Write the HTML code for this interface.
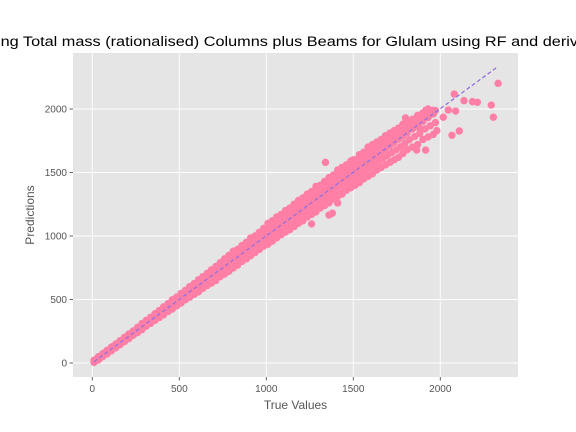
<!DOCTYPE html>
<html><head><meta charset="utf-8"><style>
html,body{margin:0;padding:0;background:#fff;}
svg{display:block;font-family:"Liberation Sans","DejaVu Sans",sans-serif;}
</style></head><body>
<svg id="chart" width="576" height="432" xmlns="http://www.w3.org/2000/svg">
<text x="-3" y="46" font-size="13.5" fill="#000" textLength="581" lengthAdjust="spacingAndGlyphs">ing Total mass (rationalised) Columns plus Beams for Glulam using RF and deriv</text>
<rect x="73" y="53" width="445" height="324" fill="#E5E5E5"/>
<g id="grid"></g>
<g id="ticks"></g>
<g id="points"></g>
<g id="line"></g>
<text x="295.5" y="409" font-size="12" fill="#555" text-anchor="middle">True Values</text>
<text x="0" y="0" font-size="12" fill="#555" text-anchor="middle" transform="translate(34,215) rotate(-90)">Predictions</text>
</svg>
<script>
const xTicks = [0, 500, 1000, 1500, 2000];
const yTicks = [0, 500, 1000, 1500, 2000];
const trueVals = [10,35,60,85,110,135,160,185,210,235,260,285,310,335,360,385,410,435,460,485,510,535,560,585,610,635,660,685,710,735,760,785,810,835,860,885,910,935,960,985,1010,1035,1060,1085,1110,1135,1160,1185,1210,1235,1260,1285,1310,1335,1360,1385,1410,1435,1460,1485,1510,1535,1560,1585,1610,1635,1660,1685,1710,1735,1760,1785,1810,1840,1870,1900,1930,1960];
const predHigh = [22,50,74,100,126,150,176,203,228,252,281,310,336,360,388,414,442,468,498,520,548,572,602,625,655,680,706,734,760,790,820,848,880,895,925,950,985,1000,1030,1060,1100,1120,1150,1170,1200,1220,1250,1280,1300,1330,1350,1390,1400,1430,1460,1480,1520,1540,1560,1590,1600,1640,1660,1700,1720,1740,1760,1790,1810,1830,1850,1880,1900,1920,1950,1970,2000,1990];
const predMid = [12,36,62,86,112,137,160,186,211,236,262,286,312,336,362,386,412,436,462,486,512,536,562,586,612,636,662,686,712,736,762,786,812,836,862,886,912,936,962,986,1012,1036,1062,1086,1112,1136,1162,1186,1212,1236,1262,1286,1312,1336,1362,1386,1412,1436,1462,1486,1512,1536,1562,1586,1612,1636,1662,1686,1712,1736,1762,1786,1812,1842,1872,1902,1932,1962];
const predLow = [5,25,50,72,96,120,144,168,192,218,240,262,290,312,336,358,380,405,425,450,472,498,518,540,560,588,610,630,650,680,700,722,748,770,800,820,845,870,895,920,935,960,985,1010,1030,1050,1075,1100,1120,1150,1170,1190,1220,1240,1260,1290,1310,1330,1360,1380,1400,1420,1450,1470,1490,1520,1540,1560,1580,1600,1620,1650,1680,1700,1720,1760,1780,1800];
const trueVals2 = [22,47,72,97,122,147,172,197,222,247,272,297,322,347,372,397,422,447,472,497,522,547,572,597,622,647,672,697,722,747,772,797,822,847,872,897,922,947,972,997,1022,1047,1072,1097,1122,1147,1172,1197,1222,1247,1272,1297,1322,1347,1372,1397,1422,1447,1472,1497,1522,1547,1572,1597,1622,1647,1672,1697,1722,1747,1772,1797,1822,1852,1882,1912,1942,1972];
const predUpper2 = [29,55,80,105,131,155,180,206,232,256,283,310,336,360,387,412,439,464,492,515,542,566,594,617,645,670,696,722,748,775,803,829,858,877,905,930,960,980,1008,1035,1068,1090,1118,1140,1168,1190,1218,1245,1268,1295,1318,1350,1368,1395,1423,1445,1478,1500,1523,1550,1568,1600,1623,1655,1678,1700,1723,1750,1773,1795,1818,1845,1868,1893,1923,1948,1978,1988];
const predLower2 = [20,42,68,91,116,140,164,189,214,239,263,286,313,336,361,384,408,432,456,480,504,529,552,575,598,624,648,670,693,720,743,766,792,815,843,865,890,915,940,965,986,1010,1036,1060,1083,1105,1131,1155,1178,1205,1228,1250,1278,1300,1323,1350,1373,1395,1423,1445,1468,1490,1518,1540,1563,1590,1613,1635,1658,1680,1703,1730,1758,1783,1808,1843,1868,1893];
const outTrue = [2332,2080,2136,2185,2213,2293,2305,2109,2067,2088,2046,2017,1918,1864,1916,1340,1360,1380,1260,1500,1590,1720,1800,1950,1980,1880,1410];
const outPred = [2202,2118,2066,2058,2053,2031,1935,1827,1793,1984,1992,1935,1992,1677,1677,1580,1165,1180,1095,1600,1650,1790,1930,1960,1830,1850,1260];
const lineStart = [10, 10];
const lineEnd = [2330, 2333];

const ns = "http://www.w3.org/2000/svg";
const xs = v => 92.3 + v * 0.174;
const ys = v => 363 - v * 0.127;
function mk(tag, attrs, parent){const e=document.createElementNS(ns,tag);for(const k in attrs)e.setAttribute(k,attrs[k]);parent.appendChild(e);return e;}
const grid=document.getElementById('grid'), ticks=document.getElementById('ticks'), pts=document.getElementById('points'), ln=document.getElementById('line');
xTicks.forEach(t=>{
  const g=mk('line',{x1:xs(t),x2:xs(t),y1:53,y2:377,stroke:'#fff','stroke-width':0.9},grid);
  
  
  mk('line',{x1:xs(t),x2:xs(t),y1:377,y2:380.5,stroke:'#555','stroke-width':0.9},ticks);
  const tx=mk('text',{x:xs(t),y:392,'font-size':10,fill:'#555','text-anchor':'middle'},ticks);
  tx.textContent=t;
  
  
});
yTicks.forEach(t=>{
  const g=mk('line',{x1:73,x2:518,y1:ys(t),y2:ys(t),stroke:'#fff','stroke-width':0.9},grid);
  
  
  mk('line',{x1:69.5,x2:73,y1:ys(t),y2:ys(t),stroke:'#555','stroke-width':0.9},ticks);
  const tx=mk('text',{x:67,y:ys(t)+3.5,'font-size':10,fill:'#555','text-anchor':'end'},ticks);
  tx.textContent=t;
  
  
});
function plotSeries(xv, yv){
  const n=Math.min(xv.length,yv.length);
  for(let i=0;i<n;i++){
    const c=mk('circle',{cx:xs(xv[i]),cy:ys(yv[i]),r:3.7,fill:'#FF7FA6'},pts);
    
    
  }
}
plotSeries(trueVals, predHigh);
plotSeries(trueVals, predMid);
plotSeries(trueVals, predLow);
plotSeries(trueVals2, predUpper2);
plotSeries(trueVals2, predLower2);
plotSeries(outTrue, outPred);
const l=mk('line',{x1:xs(lineStart[0]),y1:ys(lineStart[1]),x2:xs(lineEnd[0]),y2:ys(lineEnd[1]),stroke:'#9370DB','stroke-width':1.3,'stroke-dasharray':'4,2.5'},ln);


</script>
</body></html>
